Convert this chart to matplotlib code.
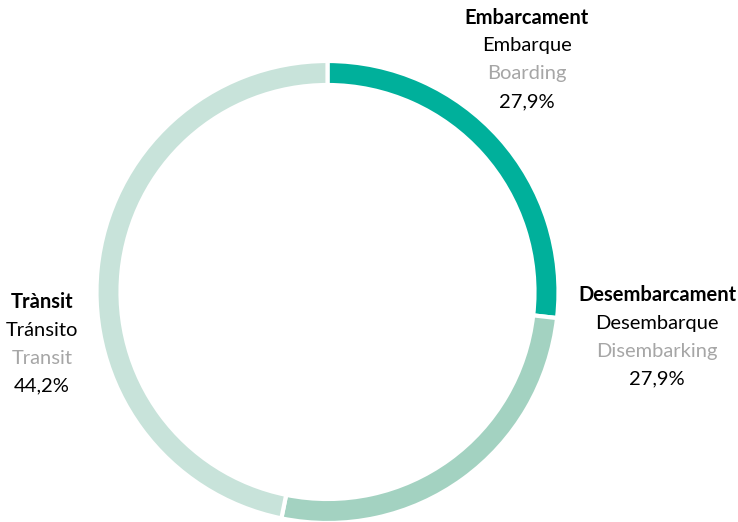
import matplotlib.pyplot as plt

plt.rcParams['font.family'] = ['Lato', 'DejaVu Sans']

cat_ca = ['Embarcament', 'Desembarcament', 'Trànsit']
cat_es = ['Embarque', 'Desembarque', 'Tránsito']
cat_en = ['Boarding', 'Disembarking', 'Transit']
pct_labels = ['27,9%', '27,9%', '44,2%']
# arc sizes as drawn in the picture (they don't quite follow the labels)
arc_share = [26.8, 26.4, 46.8]
colors = ['#00B09B', '#A3D2C1', '#C8E3DA']

W, H = 738, 522
fig = plt.figure(figsize=(W / 100, H / 100), dpi=100)
ax = fig.add_axes([0, 0, 1, 1])

cx, cy, r = 327.5, H - 292, 231
ax.pie(arc_share, colors=colors, startangle=90, counterclock=False,
       center=(cx, cy), radius=r, frame=True,
       wedgeprops=dict(width=24, edgecolor='white', linewidth=3))
ax.set_xlim(0, W)
ax.set_ylim(0, H)
ax.set_aspect('equal')
ax.axis('off')

# label anchors (x, y of first line) in pixels
label_pos = [(527, 18), (657, 295), (42, 302)]
for i, (lx, ly) in enumerate(label_pos):
    lines = [(cat_ca[i], 'black', 'bold'),
             (cat_es[i], 'black', 'normal'),
             (cat_en[i], '#A6A6A6', 'normal'),
             (pct_labels[i], 'black', 'normal')]
    for j, (txt, col, wt) in enumerate(lines):
        ax.text(lx, H - (ly + 28 * j), txt, ha='center', va='center',
                fontsize=14.5, color=col, fontweight=wt)

fig.savefig('out.png', dpi=100)
